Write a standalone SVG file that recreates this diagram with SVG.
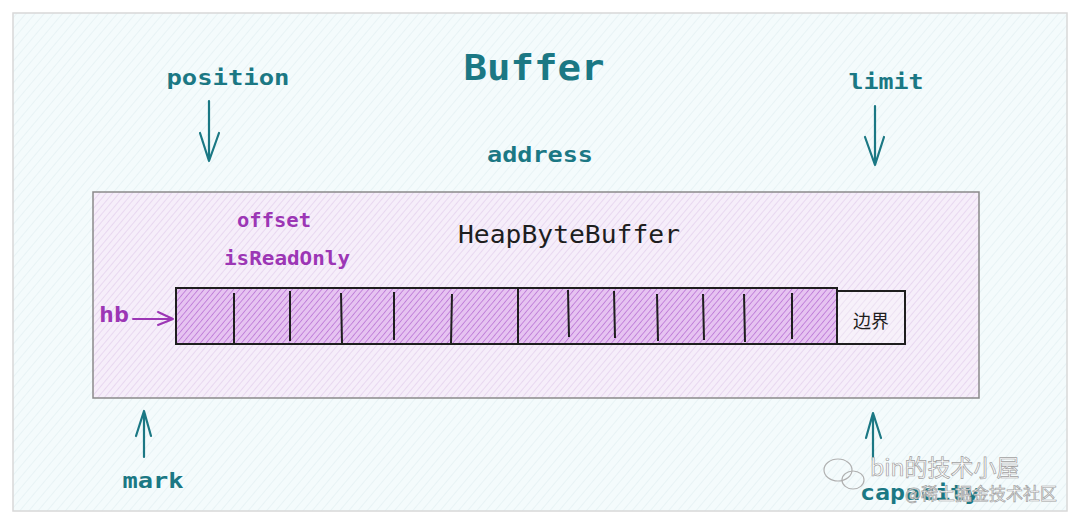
<svg xmlns="http://www.w3.org/2000/svg" width="1080" height="524" viewBox="0 0 1080 524">
<style>
.teal{fill:#1b7884;font-family:"DejaVu Sans Mono","Liberation Mono",monospace;font-weight:bold}
.purp{fill:#9c36b5;font-family:"DejaVu Sans Mono","Liberation Mono",monospace;font-weight:bold}
.blk{fill:#1e1e1e;font-family:"DejaVu Sans Mono","Liberation Mono",monospace}
.arr{stroke:#1b7884;stroke-width:2.2;fill:none;stroke-linecap:round;stroke-linejoin:round}
.div{stroke:#1e1e1e;stroke-width:2;fill:none}
.wm{fill:#ffffff;stroke:#a0a0a0;stroke-width:0.7;font-family:"Noto Sans CJK SC","Liberation Sans",sans-serif}
</style>
<defs>
<pattern id="hCyan" width="7" height="7" patternUnits="userSpaceOnUse" patternTransform="rotate(40)">
<rect width="7" height="7" fill="#f4fbfc"/>
<line x1="0" y1="0" x2="0" y2="7" stroke="#dcecef" stroke-width="1"/>
</pattern>
<pattern id="hPurp" width="5" height="5" patternUnits="userSpaceOnUse" patternTransform="rotate(40)">
<rect width="5" height="5" fill="#f6eefa"/>
<line x1="0" y1="0" x2="0" y2="5" stroke="#dbc2e7" stroke-width="1"/>
</pattern>
<pattern id="hCell" width="4.5" height="4.5" patternUnits="userSpaceOnUse" patternTransform="rotate(40)">
<rect width="4.5" height="4.5" fill="#e6c3f1"/>
<line x1="0" y1="0" x2="0" y2="4.5" stroke="#ad5ccd" stroke-width="1.2"/>
</pattern>
<pattern id="hBound" width="5" height="5" patternUnits="userSpaceOnUse" patternTransform="rotate(40)">
<rect width="5" height="5" fill="#f7f1fa"/>
<line x1="0" y1="0" x2="0" y2="5" stroke="#e2d2ea" stroke-width="1"/>
</pattern>
</defs>
<rect width="1080" height="524" fill="#ffffff"/>

<g id="buffer">
<rect x="13" y="13" width="1054" height="498" fill="url(#hCyan)" stroke="#d8d8d8" stroke-width="1.5"/>
<text class="teal" x="534" y="80" font-size="36" text-anchor="middle" textLength="141" lengthAdjust="spacingAndGlyphs">Buffer</text>
<text class="teal" x="540" y="162" font-size="22" text-anchor="middle" textLength="106" lengthAdjust="spacingAndGlyphs">address</text>
</g>

<g id="heapbytebuffer">
<rect x="93" y="192" width="886" height="206" fill="url(#hPurp)" stroke="#8a8a8a" stroke-width="1.5"/>
<text class="blk" x="569" y="243" font-size="24" text-anchor="middle" textLength="222" lengthAdjust="spacingAndGlyphs">HeapByteBuffer</text>
<text class="purp" x="274" y="227" font-size="19" text-anchor="middle" textLength="74" lengthAdjust="spacingAndGlyphs">offset</text>
<text class="purp" x="287" y="265" font-size="19" text-anchor="middle" textLength="126" lengthAdjust="spacingAndGlyphs">isReadOnly</text>
</g>

<g id="hb-array">
<rect x="176" y="288" width="661" height="56" fill="url(#hCell)" stroke="#1e1e1e" stroke-width="2"/>
<line class="div" x1="234" y1="293" x2="234" y2="343"/>
<line class="div" x1="290" y1="291" x2="290" y2="341"/>
<line class="div" x1="341" y1="293" x2="342" y2="343"/>
<line class="div" x1="394" y1="292" x2="394" y2="340"/>
<line class="div" x1="452" y1="294" x2="451" y2="343"/>
<line class="div" x1="518" y1="288" x2="518" y2="344"/>
<line class="div" x1="568" y1="290" x2="569" y2="337"/>
<line class="div" x1="614" y1="291" x2="615" y2="338"/>
<line class="div" x1="657" y1="294" x2="658" y2="341"/>
<line class="div" x1="703" y1="294" x2="704" y2="340"/>
<line class="div" x1="744" y1="294" x2="745" y2="342"/>
<line class="div" x1="792" y1="293" x2="792" y2="339"/>
</g>

<g id="boundary">
<rect x="837" y="291" width="68" height="53" fill="url(#hBound)" stroke="#1e1e1e" stroke-width="2"/>
<text x="871" y="328" font-size="18" text-anchor="middle" fill="#1e1e1e" font-family="'Noto Sans CJK SC',sans-serif">边界</text>
</g>

<g id="labels">
<text class="teal" x="228" y="85" font-size="22" text-anchor="middle" textLength="123" lengthAdjust="spacingAndGlyphs">position</text>
<text class="teal" x="886" y="89" font-size="22" text-anchor="middle" textLength="75" lengthAdjust="spacingAndGlyphs">limit</text>
<text class="teal" x="153" y="488" font-size="22" text-anchor="middle" textLength="61" lengthAdjust="spacingAndGlyphs">mark</text>
<text class="teal" x="920" y="500" font-size="22" text-anchor="middle" textLength="120" lengthAdjust="spacingAndGlyphs">capacity</text>
<text class="purp" x="114" y="322" font-size="22" text-anchor="middle" textLength="30" lengthAdjust="spacingAndGlyphs">hb</text>
</g>

<g id="connectors">
<path class="arr" d="M209 101 L209 161 M200 133 L209 161 L219 133"/>
<path class="arr" d="M875 106 L875 165 M865 137 L875 165 L884 137"/>
<path class="arr" d="M144 457 L144 411 M136 436 L144 411 L151 436"/>
<path class="arr" d="M873 460 L873 413 M866 438 L873 413 L881 438"/>
<path d="M133 319 L173 319 M158 312 L173 319 L158 325" stroke="#9c36b5" stroke-width="2" fill="none" stroke-linecap="round" stroke-linejoin="round"/>
</g>

<g id="watermark">
<text class="wm" x="870" y="476" font-size="23">bin的技术小屋</text>
<text class="wm" x="905" y="500" font-size="17">@稀土掘金技术社区</text>
<ellipse cx="838" cy="470" rx="14" ry="11" fill="none" stroke="#b0b0b0" stroke-width="1.2"/>
<ellipse cx="853" cy="480" rx="11" ry="9" fill="none" stroke="#b0b0b0" stroke-width="1.2"/>
</g>
</svg>
